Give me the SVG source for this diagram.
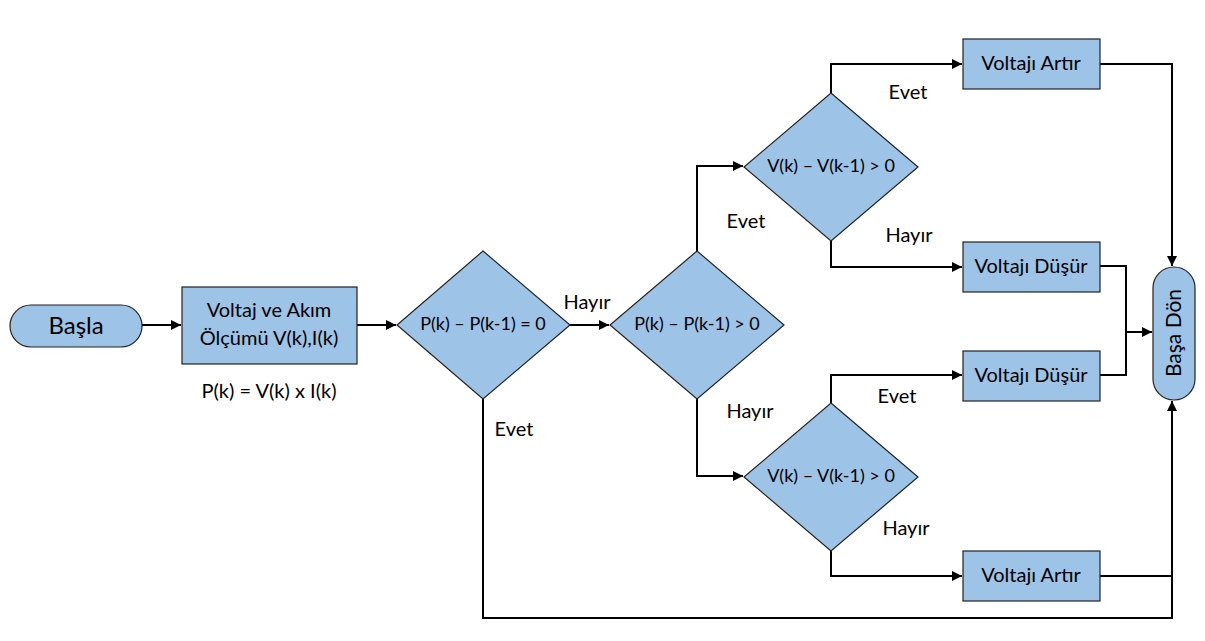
<svg xmlns="http://www.w3.org/2000/svg" width="1205" height="641" viewBox="0 0 1205 641">
<style>
.n{fill:#9dc3e6;stroke:#222;stroke-width:1.2}
.c{fill:none;stroke:#000;stroke-width:2}
text{font-family:Lato,"Open Sans",sans-serif;fill:#000;text-anchor:middle;dominant-baseline:central}
.t{font-size:20px}
.d{font-size:18px}
.l{font-size:20px}
</style>
<defs>
<marker id="a" viewBox="0 0 10 10" refX="10" refY="5" markerWidth="5" markerHeight="5" orient="auto"><path d="M0,0L10,5L0,10z" fill="#000"/></marker>
</defs>
<rect width="1205" height="641" fill="#fff"/>
<g id="connectors">
<path class="c" d="M142,325H181" marker-end="url(#a)"/>
<path class="c" d="M357,325H396" marker-end="url(#a)"/>
<path class="c" d="M570,325H609" marker-end="url(#a)"/>
<path class="c" d="M697,251V166H743" marker-end="url(#a)"/>
<path class="c" d="M831,93V64H962" marker-end="url(#a)"/>
<path class="c" d="M831,241V267H962" marker-end="url(#a)"/>
<path class="c" d="M697,399V476H743" marker-end="url(#a)"/>
<path class="c" d="M831,403V375H962" marker-end="url(#a)"/>
<path class="c" d="M831,551V576H962" marker-end="url(#a)"/>
<path class="c" d="M1100,64H1172V266" marker-end="url(#a)"/>
<path class="c" d="M1100,266H1126V375H1100"/>
<path class="c" d="M1126,332H1152" marker-end="url(#a)"/>
<path class="c" d="M1100,576H1172"/>
<path class="c" d="M483,399V618H1172V401" marker-end="url(#a)"/>
</g>
<g id="basla"><rect class="n" x="10" y="305" width="132" height="42" rx="21"/><text x="76" y="324" font-size="24">Başla</text></g>
<g id="olcum"><rect class="n" x="182" y="287" width="175" height="77"/><text class="t" x="269" y="309">Voltaj ve Akım</text><text class="t" x="269" y="337">Ölçümü V(k),I(k)</text></g>
<g id="formul"><text class="t" x="269" y="390">P(k) = V(k) x I(k)</text></g>
<g id="karar1"><path class="n" d="M483,251L570,325L483,399L397,325z"/><text class="d" x="483" y="323">P(k) – P(k-1) = 0</text></g>
<g id="karar2"><path class="n" d="M697,251L784,325L697,399L610,325z"/><text class="d" x="697" y="323">P(k) – P(k-1) &gt; 0</text></g>
<g id="karar3"><path class="n" d="M831,93L918,167L831,241L744,167z"/><text class="d" x="831" y="165">V(k) – V(k-1) &gt; 0</text></g>
<g id="karar4"><path class="n" d="M831,403L918,477L831,551L744,477z"/><text class="d" x="831" y="475">V(k) – V(k-1) &gt; 0</text></g>
<g id="artir1"><rect class="n" x="963" y="39" width="137" height="50"/><text class="t" x="1031" y="62">Voltajı Artır</text></g>
<g id="dusur1"><rect class="n" x="963" y="242" width="137" height="50"/><text class="t" x="1031" y="265">Voltajı Düşür</text></g>
<g id="dusur2"><rect class="n" x="963" y="351" width="137" height="50"/><text class="t" x="1031" y="374">Voltajı Düşür</text></g>
<g id="artir2"><rect class="n" x="963" y="551" width="137" height="50"/><text class="t" x="1031" y="574">Voltajı Artır</text></g>
<g id="basadon"><rect class="n" x="1153" y="267" width="42" height="133" rx="21"/><text x="1172" y="333" font-size="21" transform="rotate(-90 1172 333)">Başa Dön</text></g>
<g id="labels">
<text class="l" x="587" y="301">Hayır</text>
<text class="l" x="514" y="428">Evet</text>
<text class="l" x="746" y="220">Evet</text>
<text class="l" x="908" y="91">Evet</text>
<text class="l" x="909" y="234">Hayır</text>
<text class="l" x="750" y="410">Hayır</text>
<text class="l" x="897" y="395">Evet</text>
<text class="l" x="906" y="527">Hayır</text>
</g>
</svg>
